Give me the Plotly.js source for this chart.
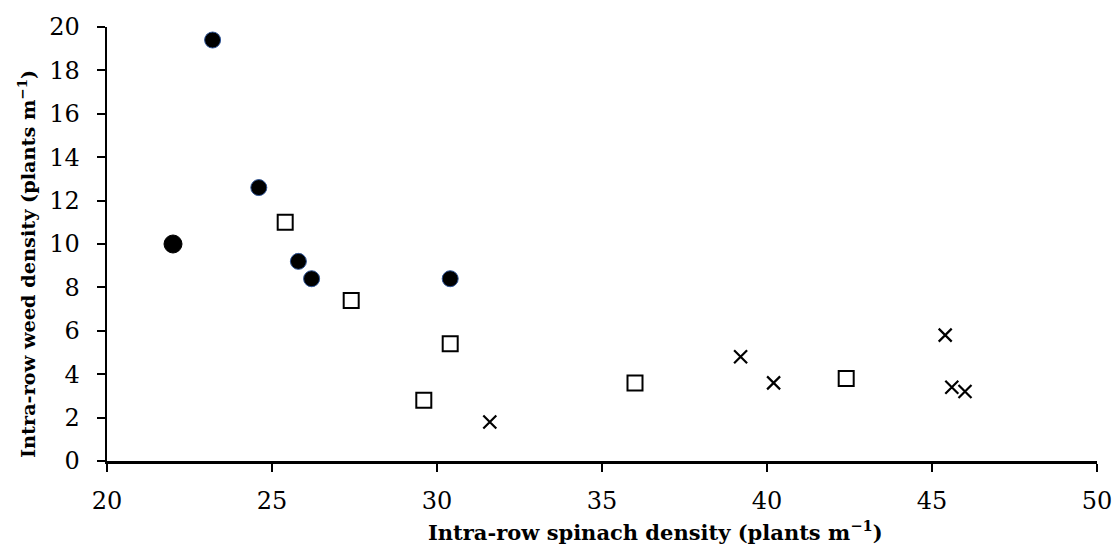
<!DOCTYPE html>
<html><head><meta charset="utf-8">
<script src="https://cdn.plot.ly/plotly-3.0.1.min.js"></script>
<style>html,body{margin:0;padding:0;background:#fff}#chart{width:1113px;height:546px}</style>
</head><body><div id="chart"></div>
<script>
const circleX = [23.2, 24.6, 22.0, 25.8, 26.2, 30.4];
const circleY = [19.4, 12.6, 10.0, 9.2, 8.4, 8.4];
const squareX = [25.4, 27.4, 30.4, 29.6, 36.0, 42.4];
const squareY = [11.0, 7.4, 5.4, 2.8, 3.6, 3.8];
const crossX = [31.6, 39.2, 40.2, 45.4, 45.6, 46.0];
const crossY = [1.8, 4.8, 3.6, 5.8, 3.4, 3.2];
const xTitle = 'Intra-row spinach density (plants m<sup>−1</sup>)';
const yTitle = 'Intra-row weed density (plants m<sup>−1</sup>)';

const FONT = 'DejaVu Serif, Liberation Serif, serif';
const traces = [
  {x: circleX, y: circleY, type: 'scatter', mode: 'markers',
   marker: {symbol: 'circle', opacity: 1, size: circleX.map((v, i) => i === 2 ? 18 : 16), color: '#000',
     line: {color: circleX.map((v, i) => i === 2 ? '#000' : '#2f5597'), width: 1}}},
  {x: squareX, y: squareY, type: 'scatter', mode: 'markers',
   marker: {symbol: 'square-open', opacity: 1, size: 15, color: '#000', line: {color: '#000', width: 2}}},
  {x: crossX, y: crossY, type: 'scatter', mode: 'markers',
   marker: {symbol: 'x-thin-open', opacity: 1, size: 13, color: '#000', line: {color: '#000', width: 2.2}}}
];
const layout = {
  width: 1113, height: 546, showlegend: false,
  paper_bgcolor: '#fff', plot_bgcolor: '#fff',
  margin: {l: 107, r: 16, t: 27, b: 85},
  font: {family: FONT, color: '#000', size: 24},
  xaxis: {range: [20, 50], dtick: 5, tick0: 20, showgrid: false, zeroline: false,
    showline: true, linecolor: '#000', linewidth: 2.5, ticks: 'outside', ticklen: 8, tickwidth: 2,
    tickcolor: '#000', tickfont: {family: FONT, size: 24}, ticklabelstandoff: 9},
  yaxis: {range: [0, 20], dtick: 2, tick0: 0, showgrid: false, zeroline: false,
    showline: true, linecolor: '#000', linewidth: 2.5, ticks: 'outside', ticklen: 8, tickwidth: 2,
    tickcolor: '#000', tickfont: {family: FONT, size: 24}, ticklabelstandoff: 12},
  annotations: [
    {text: '<b>' + xTitle + '</b>', xref: 'paper', yref: 'paper', x: 0.5545, y: -0.161,
     xanchor: 'center', yanchor: 'middle', showarrow: false, font: {family: FONT, size: 21}},
    {text: '<b>' + yTitle + '</b>', xref: 'paper', yref: 'paper', x: -0.0808, y: 0.454,
     xanchor: 'center', yanchor: 'middle', textangle: -90, showarrow: false, font: {family: FONT, size: 19.3}}
  ]
};
Plotly.newPlot('chart', traces, layout, {displayModeBar: false, staticPlot: true});
</script></body></html>
